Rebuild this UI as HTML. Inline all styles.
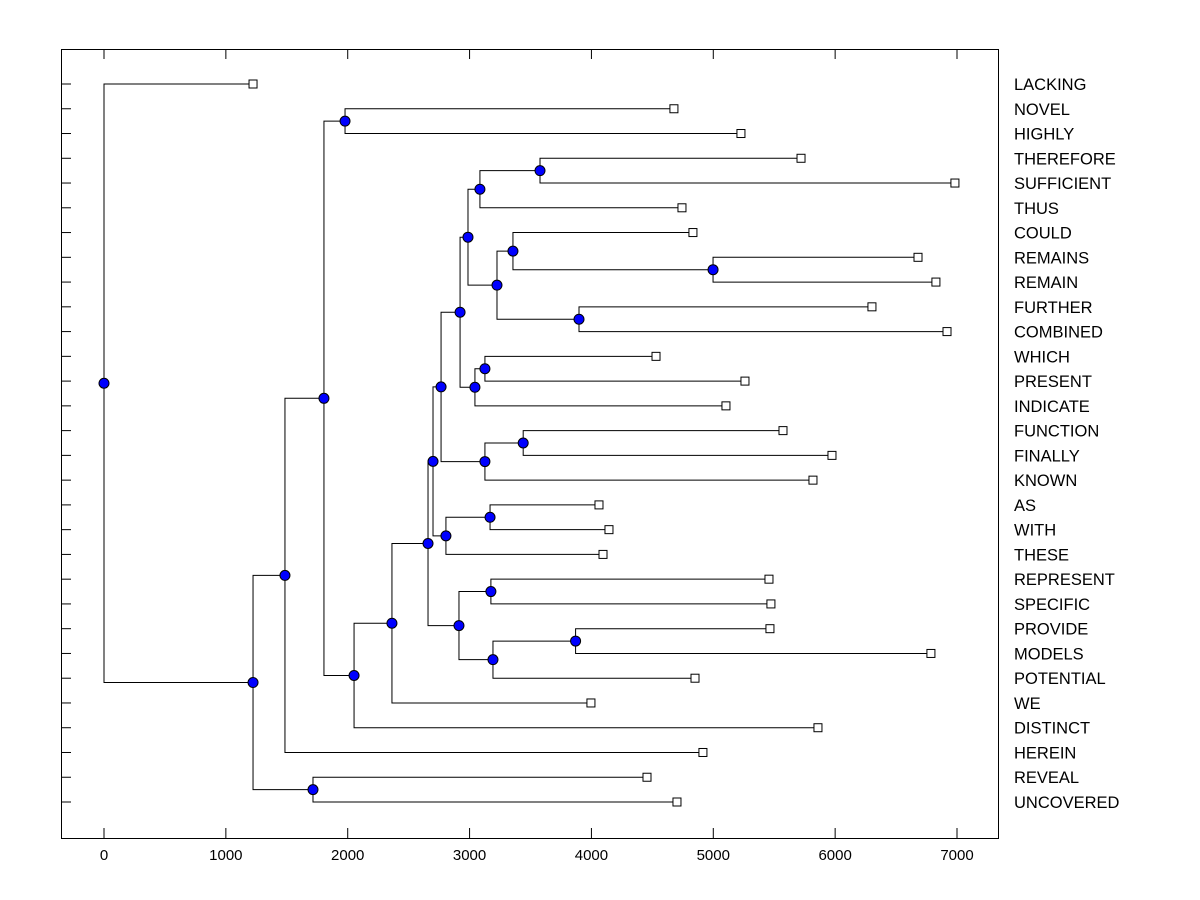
<!DOCTYPE html>
<html><head><meta charset="utf-8"><style>
html,body{margin:0;padding:0;background:#fff;}
svg{display:block;font-family:"Liberation Sans",Arial,sans-serif;}
</style></head><body>
<svg id="chart" width="1200" height="900"></svg>
<script>
const leaves = ["LACKING","NOVEL","HIGHLY","THEREFORE","SUFFICIENT","THUS","COULD","REMAINS","REMAIN","FURTHER","COMBINED","WHICH","PRESENT","INDICATE","FUNCTION","FINALLY","KNOWN","AS","WITH","THESE","REPRESENT","SPECIFIC","PROVIDE","MODELS","POTENTIAL","WE","DISTINCT","HEREIN","REVEAL","UNCOVERED"];
const leafValues = [1223,4677,5227,5720,6983,4743,4833,6680,6827,6302,6918,4530,5260,5104,5572,5974,5818,4062,4144,4095,5457,5473,5465,6786,4850,3996,5859,4915,4456,4702];
// merges (internal node ids start at 30, in this order)
const mergeA = [1,3,7,9,11,14,17,20,22,28,6,31,40,41,34,43,35,45,36,47,38,37,49,52,53,30,55,56,0];
const mergeB = [2,4,8,10,12,15,18,21,23,29,32,5,33,42,13,44,16,46,19,48,24,50,51,25,26,54,27,39,57];
const mergeH = [1978,3578,4998,3898,3126,3440,3168,3175,3870,1715,3356,3085,3225,2987,3044,2922,3126,2766,2806,2700,3192,2913,2659,2363,2052,1805,1485,1223,0];
const xTicks = [0,1000,2000,3000,4000,5000,6000,7000];
</script>
<script>
(function(){
const svg=document.getElementById('chart');const NS='http://www.w3.org/2000/svg';
const L=61,R=998,T=49,B=838;
const x=v=>104+v*(957-104)/7000;
const y0=84,dy=(802-84)/(leaves.length-1);
const yRow=i=>y0+i*dy;
function el(t,a,p){const e=document.createElementNS(NS,t);for(const k in a)e.setAttribute(k,a[k]);(p||svg).appendChild(e);return e;}
const frame=el('rect',{x:L+0.5,y:T+0.5,width:R-L,height:B-T,fill:'none',stroke:'#000','stroke-width':1});


xTicks.forEach(t=>{
  const g=el('g',{});
  
  
  el('line',{x1:x(t),x2:x(t),y1:B,y2:B-10,stroke:'#000'},g);
  el('line',{x1:x(t),x2:x(t),y1:T,y2:T+10,stroke:'#000'},g);
  const tx=el('text',{x:x(t),y:B+22,'text-anchor':'middle','font-size':15,fill:'#000'},g);tx.textContent=t;
});
const n=leaves.length;const pos={};
leaves.forEach((l,i)=>{pos[i]={x:x(leafValues[i]),y:yRow(i)};});
const lines=el('g',{});


const nodes=[];
for(let i=0;i<mergeA.length;i++){
  const id=n+i;const a=pos[mergeA[i]],b=pos[mergeB[i]];const hx=x(mergeH[i]);
  pos[id]={x:hx,y:(a.y+b.y)/2};
  const p=el('path',{d:`M${a.x},${a.y}H${hx}V${b.y}H${b.x}`,fill:'none',stroke:'#000','stroke-width':1},lines);
  
  
  nodes.push(id);
}
leaves.forEach((l,i)=>{
  const r=el('rect',{x:pos[i].x-4,y:pos[i].y-4,width:8,height:8,fill:'#fff',stroke:'#000'});
  
  
  const tk=el('line',{x1:L,x2:L+10,y1:yRow(i),y2:yRow(i),stroke:'#000'});
  
  
  const t=el('text',{x:1014,y:yRow(i)+6,'font-size':16.5,fill:'#000'});t.textContent=l;
  
  
});
nodes.forEach(id=>{
  const c=el('circle',{cx:pos[id].x,cy:pos[id].y,r:5,fill:'#0000ff',stroke:'#000','stroke-width':1});
  
  
});
})();
</script>
</body></html>
